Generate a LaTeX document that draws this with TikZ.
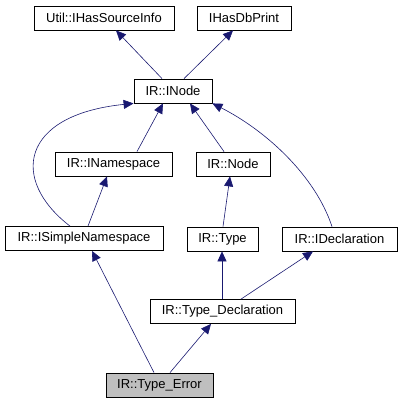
\documentclass[tikz,border=0pt]{standalone}
\usepackage{fontspec}
\setmainfont{Liberation Sans}
\usepackage{xcolor}
\usetikzlibrary{arrows.meta}
\definecolor{edgeblue}{RGB}{25, 25, 112}
\definecolor{selgray}{RGB}{191, 191, 191}

\begin{document}
\begin{tikzpicture}[
  x=1pt, y=-1pt,
  cls/.style={draw=black,fill=white,thick,minimum height=24pt,inner sep=0pt,
              font=\fontsize{13}{15}\selectfont},
  current/.style={cls,fill=selgray},
  inherit/.style={draw=edgeblue,semithick,
                  -{Triangle[length=10pt,width=9pt]}},
]
  \useasboundingbox (0,0) rectangle (401,403);

  % top row
  \node[cls,minimum width=140pt] (srcinfo) at (104,18)  {Util::IHasSourceInfo};
  \node[cls,minimum width=94pt]  (dbprint) at (244,18)  {IHasDbPrint};
  \node[cls,minimum width=78pt]  (inode)   at (173,91)  {IR::INode};

  % middle
  \node[cls,minimum width=117pt] (inamesp) at (113.5,164) {IR::INamespace};
  \node[cls,minimum width=74pt]  (node)    at (233,164)   {IR::Node};
  \node[cls,minimum width=158pt] (isimple) at (84,238.5)  {IR::ISimpleNamespace};
  \node[cls,minimum width=71pt]  (type)    at (222.5,239) {IR::Type};
  \node[cls,minimum width=115pt] (idecl)   at (339.5,239) {IR::IDeclaration};

  % bottom
  \node[cls,minimum width=145pt] (typedecl) at (222.5,311.5) {IR::Type\_Declaration};
  \node[current,minimum width=107pt] (typeerr) at (159.5,385) {IR::Type\_Error};

  \draw[inherit] (inode.north -| 162,0) -- (srcinfo.south -| 116,0);
  \draw[inherit] (inode.north -| 184,0) -- (dbprint.south -| 233,0);
  \draw[inherit] (inamesp.north -| 137,0) -- (inode.south -| 163,0);
  \draw[inherit] (node.north -| 224,0) -- (inode.south -| 190,0);
  \draw[inherit] (isimple.north -| 70,0) .. controls (10,180) and (20,115) .. (inode.south west);
  \draw[inherit] (idecl.north -| 332,0) .. controls (315,175) and (265,130) .. (inode.south east);
  \draw[inherit] (isimple.north -| 88,0) -- (inamesp.south -| 107,0);
  \draw[inherit] (type.north -| 223,0) -- (node.south -| 230,0);
  \draw[inherit] (typedecl.north -| 222,0) -- (type.south -| 222,0);
  \draw[inherit] (typedecl.north -| 241,0) -- (idecl.south -| 313,0);
  \draw[inherit] (typeerr.north -| 154,0) -- (isimple.south -| 92,0);
  \draw[inherit] (typeerr.north -| 170,0) -- (typedecl.south -| 211,0);
\end{tikzpicture}
\end{document}
